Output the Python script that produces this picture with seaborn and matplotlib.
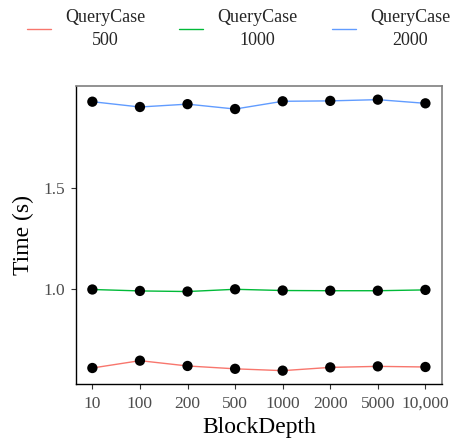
import numpy as np
import pandas as pd
import matplotlib
matplotlib.use('Agg')
import matplotlib.pyplot as plt
import seaborn as sns

# ================= DADOS =================
block_depth = ['10', '100', '200', '500', '1000', '2000', '5000', '10,000']
query_cases = ['500', '1000', '2000']
time_500 = [0.615, 0.651, 0.625, 0.611, 0.602, 0.618, 0.623, 0.620]
time_1000 = [1.000, 0.993, 0.990, 1.001, 0.995, 0.994, 0.994, 0.998]
time_2000 = [1.921, 1.895, 1.909, 1.885, 1.923, 1.925, 1.931, 1.913]
y_ticks = [1.0, 1.5]
y_tick_labels = ['1.0', '1.5']
colors = ['#F8766D', '#00BA38', '#619CFF']

df = pd.DataFrame({
    'BlockDepth': block_depth * len(query_cases),
    'QueryCase': [q for q in query_cases for _ in block_depth],
    'Time': time_500 + time_1000 + time_2000,
})

# ================= GRÁFICO =================
sns.set_theme(style='white')
plt.rcParams['font.family'] = ['Liberation Serif', 'DejaVu Serif']

fig = plt.figure(figsize=(4.52, 4.41), dpi=100)
ax = fig.add_axes([0.1675, 0.129, 0.8105, 0.676])

sns.lineplot(data=df, x='BlockDepth', y='Time', hue='QueryCase',
             palette=colors, linewidth=1.0, sort=False, ax=ax)
sns.scatterplot(data=df, x='BlockDepth', y='Time', color='black', s=55,
                edgecolor='none', legend=False, zorder=3, ax=ax)

ax.set_xlim(-0.35, len(block_depth) - 1 + 0.35)
ax.set_ylim(0.536, 1.998)
ax.set_yticks(y_ticks)
ax.set_yticklabels(y_tick_labels)

ax.set_xlabel('BlockDepth', fontsize=17, color='black', labelpad=4)
ax.set_ylabel('Time (s)', fontsize=17, color='black', labelpad=7)
ax.tick_params(axis='both', which='major', labelsize=12.5, labelcolor='#4D4D4D',
               length=3.5, width=0.8, color='#333333', pad=4, direction='out')
ax.tick_params(left=True, bottom=True)
ax.tick_params(axis='x', pad=5)

for side in ['left', 'bottom']:
    ax.spines[side].set_color('black')
    ax.spines[side].set_linewidth(1.0)
for side in ['top', 'right']:
    ax.spines[side].set_color('#7F7F7F')
    ax.spines[side].set_linewidth(1.2)

# legenda no topo
handles, labels = ax.get_legend_handles_labels()
ax.get_legend().remove()
leg = fig.legend(handles, ['QueryCase\n' + q for q in query_cases], ncol=3,
                 loc='upper center', bbox_to_anchor=(0.528, 1.009), frameon=False,
                 fontsize=13, handlelength=1.33, handletextpad=0.78,
                 columnspacing=1.9, borderaxespad=0.3)
for t in leg.get_texts():
    t.set_multialignment('center')
    t.set_linespacing(1.45)
for h in leg.get_lines():
    h.set_linewidth(1.0)

fig.savefig('out.png', dpi=100)
